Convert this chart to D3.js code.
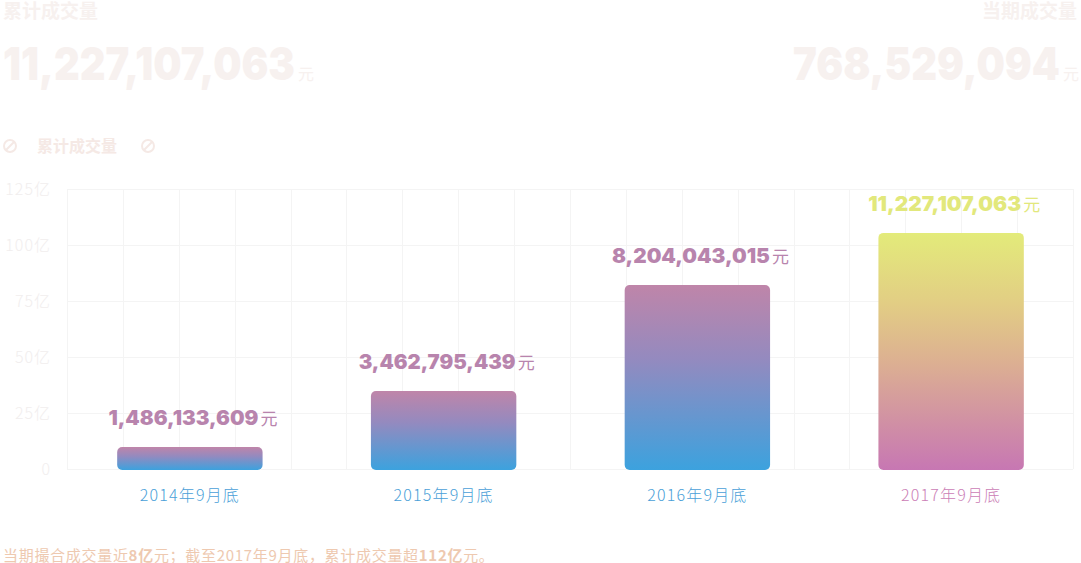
<!DOCTYPE html>
<html><head><meta charset="utf-8">
<script src="https://cdn.jsdelivr.net/npm/d3@7"></script>
<style>
html,body{margin:0;padding:0;background:#fff;}
svg{display:block;font-family:"Noto Sans CJK SC","Noto Sans",sans-serif;}
</style></head>
<body><svg id="c" width="1081" height="563"></svg>
<script>
// ---- data ----
const categories = ["2014年9月底","2015年9月底","2016年9月底","2017年9月底"];
const barValues = [9.8, 34.8, 82.1, 105.4];           // bar heights (亿)
const valueLabels = ["1,486,133,609","3,462,795,439","8,204,043,015","11,227,107,063"];
const yTicks = [0,25,50,75,100,125];
const totalTitle = "累计成交量", totalValue = "11,227,107,063";
const periodTitle = "当期成交量", periodValue = "768,529,094";
const legendLabel = "累计成交量";
const footnote = [
  {t:"当期撮合成交量近",b:false},{t:"8亿",b:true},{t:"元；截至2017年9月底，累计成交量",b:false},
  {t:"超",b:false},{t:"112亿",b:true},{t:"元。",b:false}];

const svg = d3.select("#c");
const numFont = "Inter, Lato, sans-serif";
const defs = svg.append("defs");
function grad(id, stops){
  const g = defs.append("linearGradient").attr("id",id).attr("x1",0).attr("y1",0).attr("x2",0).attr("y2",1);
  stops.forEach(s=>g.append("stop").attr("offset",s[0]).attr("stop-color",s[1]));
}
grad("gBlue",[[0,"#bf85a9"],[0.4,"#948abf"],[1,"#3ca2de"]]);
grad("gYellow",[[0,"#e3eb7a"],[0.3,"#e2cd84"],[0.55,"#dcaf92"],[1,"#c777b3"]]);

// ---- header ----
function numWithUnit(x, y, num, size, len, unitSize, color, anchorRight){
  const g = svg.append("g");
  const t = g.append("text").attr("y",y).attr("font-family",numFont).attr("font-weight",900)
    .attr("font-size",size).attr("fill",color).attr("textLength",len).attr("lengthAdjust","spacingAndGlyphs").text(num);
  const u = g.append("text").attr("y",y).attr("font-size",unitSize).attr("fill",color).text("元");
  const uw = u.node().getComputedTextLength();
  if(anchorRight){ u.attr("x", x-uw); t.attr("x", x-uw-3-len); }
  else { t.attr("x", x); u.attr("x", x+len+3); }
}
const hdr = "#f7f1ef";
svg.append("text").attr("x",3).attr("y",18).attr("font-size",19).attr("font-weight",700).attr("fill",hdr).text(totalTitle);
svg.append("text").attr("x",1077).attr("y",18).attr("text-anchor","end").attr("font-size",19).attr("font-weight",700).attr("fill",hdr).text(periodTitle);
numWithUnit(3, 80, totalValue, 46, 292, 16, hdr, false);
numWithUnit(1079, 80, periodValue, 46, 267, 16, hdr, true);

// ---- legend ----
const lg = "#f5e9e5";
[10,148].forEach(cx=>{
  svg.append("circle").attr("cx",cx).attr("cy",146).attr("r",6).attr("fill","none").attr("stroke",lg).attr("stroke-width",2);
  svg.append("line").attr("x1",cx-4).attr("y1",150).attr("x2",cx+4).attr("y2",142).attr("stroke",lg).attr("stroke-width",2);
});
svg.append("text").attr("x",37).attr("y",152).attr("font-size",16).attr("font-weight",700).attr("fill",lg).text(legendLabel);

// ---- scales ----
const plotL = 67, plotR = 1073, plotT = 189, plotB = 469;
const y = d3.scaleLinear().domain([0,125]).range([plotB,plotT]);
const x = d3.scaleBand().domain(categories).range([63,1078]).paddingInner(0.427).paddingOuter(0.2135);
const gx = d3.scaleLinear().domain([0,18]).range([plotL,plotR]);

// grid
const grid = svg.append("g").attr("stroke","#f4f4f4").attr("stroke-width",1);
grid.selectAll("line.h").data(yTicks).join("line").attr("class","h")
  .attr("x1",plotL).attr("x2",plotR).attr("y1",d=>Math.round(y(d))+0.5).attr("y2",d=>Math.round(y(d))+0.5);
grid.selectAll("line.v").data(d3.range(19)).join("line").attr("class","v")
  .attr("y1",plotT).attr("y2",plotB).attr("x1",d=>Math.round(gx(d))+0.5).attr("x2",d=>Math.round(gx(d))+0.5);

// y axis labels
const yAxis = d3.axisLeft(y).tickValues(yTicks).tickSize(0).tickPadding(0)
  .tickFormat(d=> d===0 ? "0" : d+"亿");
const ya = svg.append("g").attr("transform","translate(51,0)").call(yAxis);
ya.select(".domain").remove();
ya.selectAll("text").attr("font-size",16).attr("fill","#f1eeee").attr("font-family","Noto Sans CJK SC, sans-serif")
  .attr("font-weight",300).attr("letter-spacing","1px");

// bars
const isLast = (i)=> i===categories.length-1;
svg.selectAll("rect.bar").data(barValues).join("rect").attr("class","bar")
  .attr("x",(d,i)=>x(categories[i])).attr("width",x.bandwidth())
  .attr("y",d=>y(d)).attr("height",d=>plotB+1-y(d))
  .attr("rx",5).attr("ry",5)
  .attr("fill",(d,i)=>isLast(i)?"url(#gYellow)":"url(#gBlue)");

// value labels
const labelLens = [150,157,158,153];
barValues.forEach((v,i)=>{
  const color = isLast(i) ? "#e2e87c" : "#b884ad";
  const cx = x(categories[i]) + x.bandwidth()/2;
  const by = y(v) - 22;
  const g = svg.append("g");
  const t = g.append("text").attr("y",by).attr("font-family",numFont).attr("font-weight",900)
    .attr("font-size",20).attr("fill",color).attr("textLength",labelLens[i]).attr("lengthAdjust","spacingAndGlyphs").text(valueLabels[i]);
  const u = g.append("text").attr("y",by).attr("font-size",17).attr("fill",color).text("元");
  const uw = u.node().getComputedTextLength();
  const total = labelLens[i] + 2 + uw;
  const x0 = cx - total/2 + 3;
  t.attr("x",x0); u.attr("x",x0+labelLens[i]+2);
});

// x labels
const xAxis = d3.axisBottom(x).tickSize(0).tickPadding(0);
const xa = svg.append("g").attr("transform","translate(0,501)").call(xAxis);
xa.select(".domain").remove();
xa.selectAll("text").attr("dy",0).attr("font-size",16).attr("letter-spacing","1.2px")
  .attr("font-family","Noto Sans CJK SC, sans-serif").attr("font-weight",300)
  .attr("fill",(d,i)=>isLast(i)?"#cb80b6":"#4a9fd8");

// footnote
const ft = svg.append("text").attr("x",3).attr("y",561).attr("font-size",15).attr("fill","#eec9b0").attr("letter-spacing","0.7px");
footnote.forEach(s=>ft.append("tspan").attr("font-weight",s.b?700:400).text(s.t));
</script></body></html>
